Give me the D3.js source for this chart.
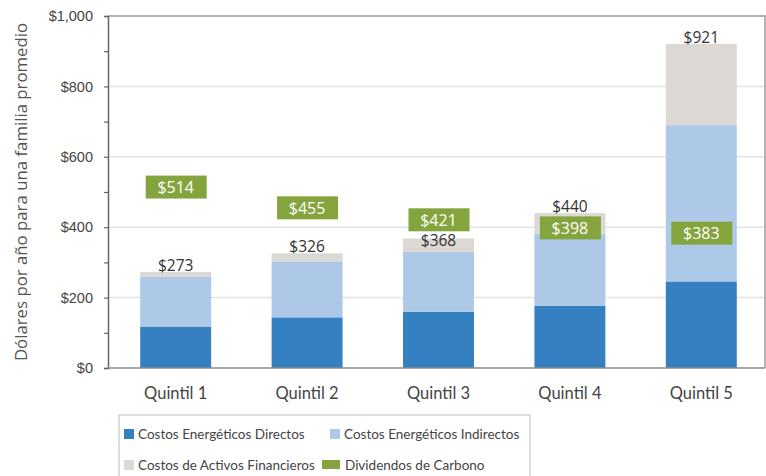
<!DOCTYPE html>
<html>
<head>
<meta charset="utf-8">
<script src="https://cdn.jsdelivr.net/npm/d3@7"></script>
<style>
  body { margin: 0; background: #fff; }
  svg { font-family: "Open Sans", sans-serif; }
</style>
</head>
<body>
<svg id="chart" width="766" height="476"></svg>
<script>
// data
const quintiles = ["Quintil 1", "Quintil 2", "Quintil 3", "Quintil 4", "Quintil 5"];
const directCosts = [118, 144, 160, 177, 246];
const indirectCosts = [142, 159, 170, 205, 444];
const financialCosts = [13, 23, 38, 58, 231];
const totals = [273, 326, 368, 440, 921];
const dividends = [514, 455, 421, 398, 383];
const yTicks = [0, 200, 400, 600, 800, 1000];

const seriesNames = ["Costos Energéticos Directos", "Costos Energéticos Indirectos",
                     "Costos de Activos Financieros", "Dividendos de Carbono"];
const colors = ["#3580c1", "#adc9e7", "#dcd8d4", "#84a53e"];

const svg = d3.select("#chart");
const mLeft = 108, mRight = 765, mTop = 16, mBottom = 368;

const x = d3.scaleBand().domain(quintiles).range([mLeft + 2, mRight + 2])
  .paddingInner(0.46).paddingOuter(0.23);
const y = d3.scaleLinear().domain([0, 1000]).range([mBottom, mTop]);
const cx = i => x(quintiles[i]) + x.bandwidth() / 2;

// gridlines
svg.append("g").selectAll("line")
  .data(yTicks.filter(d => d > 0 && d < 1000))
  .join("line")
  .attr("x1", mLeft).attr("x2", mRight)
  .attr("y1", d => y(d)).attr("y2", d => y(d))
  .attr("stroke", "#e3e3e3").attr("stroke-width", 1.5);

// stacked bars
const rows = quintiles.map((q, i) => ({
  q: q, direct: directCosts[i], indirect: indirectCosts[i], financial: financialCosts[i]
}));
const stack = d3.stack().keys(["direct", "indirect", "financial"])(rows);

svg.append("g").selectAll("g")
  .data(stack)
  .join("g")
  .attr("fill", (d, i) => colors[i])
  .selectAll("rect")
  .data(d => d)
  .join("rect")
  .attr("x", d => x(d.data.q))
  .attr("width", x.bandwidth())
  .attr("y", d => y(d[1]))
  .attr("height", d => y(d[0]) - y(d[1]));

// frame (top + right)
svg.append("path")
  .attr("d", `M${mLeft},${mTop}H${mRight}V${mBottom}`)
  .attr("fill", "none").attr("stroke", "#9a9a9a").attr("stroke-width", 1.5);

// y axis
const yAxis = d3.axisLeft(y).tickValues(d3.range(0, 1001, 100))
  .tickSize(4)
  .tickFormat(d => d % 200 === 0 ? d3.format("$,")(d) : "");
const ya = svg.append("g").attr("transform", `translate(${mLeft},0)`).call(yAxis);
ya.select(".domain").attr("stroke", "#6b6560").attr("stroke-width", 1.5);
ya.selectAll(".tick line").attr("stroke", "#6b6560").attr("stroke-width", 1.2);
ya.selectAll(".tick text")
  .attr("x", -15)
  .attr("fill", "#444").attr("font-size", 14.5);

// x axis
const xAxis = d3.axisBottom(x).tickSize(0).tickPadding(19);
const xa = svg.append("g").attr("transform", `translate(0,${mBottom})`).call(xAxis);
xa.select(".domain").attr("d", `M${mLeft},0H${mRight}`)
  .attr("stroke", "#8a8a8a").attr("stroke-width", 1.5);
xa.selectAll(".tick text").attr("fill", "#444").attr("font-size", 16.5)
  .attr("font-family", "Lato, sans-serif");

// y title
svg.append("text")
  .attr("transform", `translate(27,192) rotate(-90)`)
  .attr("text-anchor", "middle")
  .attr("fill", "#555").attr("font-size", 16.8)
  .text("Dólares por año para una familia promedio");

// dividend markers
const div = svg.append("g").selectAll("g")
  .data(dividends)
  .join("g")
  .attr("transform", (d, i) => `translate(${cx(i)},${y(d)})`);
div.append("rect")
  .attr("x", -30).attr("y", -11.5).attr("width", 61).attr("height", 23)
  .attr("fill", colors[3]);
div.append("text")
  .attr("text-anchor", "middle").attr("dy", "0.36em")
  .attr("fill", "#fff").attr("font-size", 16)
  .text(d => "$" + d);

// total labels, pushed below a dividend box when they would collide
svg.append("g").selectAll("text")
  .data(totals)
  .join("text")
  .attr("x", (d, i) => cx(i))
  .attr("y", (d, i) => {
    const ty = y(d) - 1;
    const boxTop = y(dividends[i]) - 11.5, boxBottom = y(dividends[i]) + 11.5;
    if (ty > boxTop && ty - 12 < boxBottom) return boxBottom + 15;
    return ty;
  })
  .attr("text-anchor", "middle")
  .attr("fill", "#333").attr("font-size", 15.5)
  .text(d => "$" + d);

// legend
const lg = svg.append("g");
lg.append("rect")
  .attr("x", 119).attr("y", 415).attr("width", 411).attr("height", 80)
  .attr("fill", "#fff").attr("stroke", "#c8c8c8").attr("stroke-width", 1.2);
const legendPos = [[124, 434], [330, 434], [124, 465], [322, 465]];
const li = lg.selectAll("g.item")
  .data(seriesNames)
  .join("g")
  .attr("class", "item")
  .attr("transform", (d, i) => `translate(${legendPos[i][0]},${legendPos[i][1]})`);
li.append("rect")
  .attr("x", 0).attr("y", -5).attr("width", (d, i) => i === 3 ? 18 : 10).attr("height", (d, i) => i === 3 ? 9 : 10)
  .attr("fill", (d, i) => colors[i]);
li.append("text")
  .attr("x", (d, i) => i === 3 ? 23 : 14).attr("dy", "0.35em")
  .attr("fill", "#444").attr("font-size", 13.5)
  .attr("font-family", "Lato, sans-serif")
  .text(d => d);
</script>
</body>
</html>
